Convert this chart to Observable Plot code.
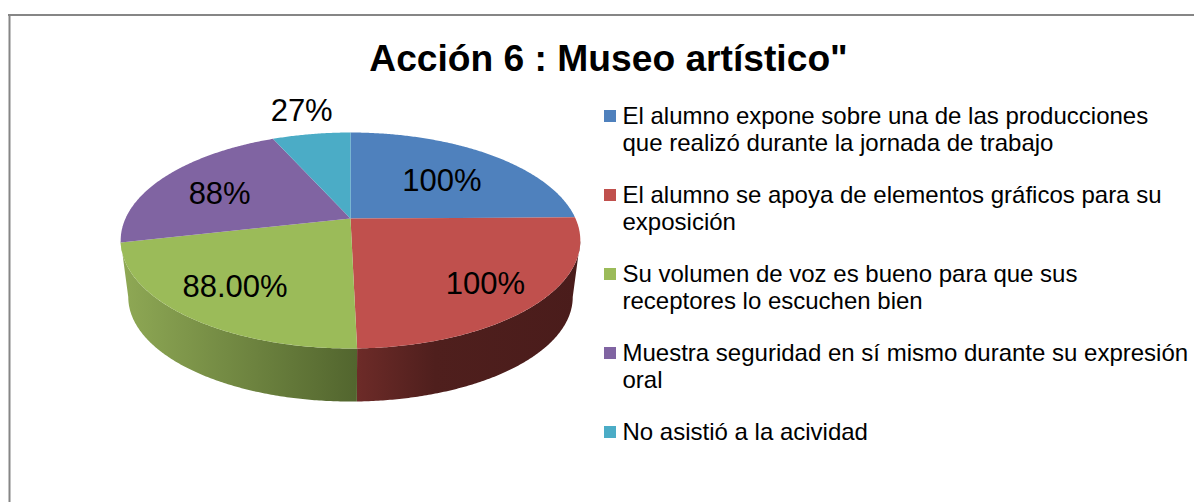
<!DOCTYPE html>
<html><head><meta charset="utf-8">
<script src="https://cdn.jsdelivr.net/npm/d3@7"></script>
<script src="https://cdn.jsdelivr.net/npm/@observablehq/plot@0.6"></script>
<style>html,body{margin:0;padding:0;background:#fff}svg{display:block}</style>
</head><body><div id="chart"></div>
<script>
const title = 'Acción 6 : Museo artístico"';
const values = [100, 100, 88, 88, 27];
const sliceLabels = ["100%", "100%", "88.00%", "88%", "27%"];
const categories = [
  ["El alumno expone sobre una de las producciones", "que realizó durante la jornada de trabajo"],
  ["El alumno se apoya de elementos gráficos para su", "exposición"],
  ["Su volumen de voz es bueno para que sus", "receptores lo escuchen bien"],
  ["Muestra seguridad en sí mismo durante su expresión", "oral"],
  ["No asistió a la acividad"]
];
const colors = ["#4f81bd", "#c0504d", "#9bbb59", "#8064a2", "#4bacc6"];
const labelRadius = [0.585, 0.77, 0.74, 0.658, 1.338];
const labelTurn = [3.8, 2.4, -0.3, -4.7, 0.2];

// Perspective view of the tilted disc
const cx = 350, cy = 218, R = 225, A = 103.5, k = 0.2037;
const ellipseCy = 240, wallCy = 296.6, wallScale = 0.967;
const W = 1194, H = 502;

function upperPoint(theta, r = 1) {
  const s = r * Math.sin(theta), d = -r * Math.cos(theta), D = 1 - k * d;
  return {x: cx + R * s / D, y: cy + A * d / D};
}
function lowerPoint(theta) {
  const p = upperPoint(theta);
  return {x: cx + wallScale * (p.x - cx), y: wallCy + wallScale * (p.y - ellipseCy)};
}
function sweep(a, b) {
  const n = Math.max(2, Math.ceil(Math.abs(b - a) / (Math.PI / 360)));
  return d3.range(n + 1).map(i => a + (b - a) * i / n);
}
const arcs = d3.pie().sort(null)(values);
const tangentD = ((ellipseCy - cy) / A) / (1 + k * (ellipseCy - cy) / A);
const tangent = Math.acos(-tangentD);

const topPolys = arcs.map(a => [upperPoint(0, 0), ...sweep(a.startAngle, a.endAngle).map(t => upperPoint(t))]);
function wall(a, b) {
  const ts = sweep(a, b);
  return [...ts.map(t => upperPoint(t)), ...ts.slice().reverse().map(t => lowerPoint(t))];
}
const redWall = wall(tangent, arcs[1].endAngle);
const greenWall = wall(arcs[2].startAngle, 2 * Math.PI - tangent);

const labelRows = arcs.map((a, i) => ({
  ...upperPoint((a.startAngle + a.endAngle) / 2 + labelTurn[i] * Math.PI / 180, labelRadius[i]),
  text: sliceLabels[i]
}));

// Legend rows
const firstRow = 116, lineStep = 27, entryGap = 25, swatch = 12;
const legendLines = [], legendSwatches = [];
let yy = firstRow;
categories.forEach((lines, i) => {
  legendSwatches.push({y: yy, color: colors[i]});
  lines.forEach(t => { legendLines.push({y: yy, text: t}); yy += lineStep; });
  yy += entryGap;
});

function gradient(id, stops) {
  const g = d3.create("svg:linearGradient").attr("id", id).attr("x1", 0).attr("x2", 1).attr("y1", 0).attr("y2", 0);
  stops.forEach(([o, c]) => g.append("stop").attr("offset", o).attr("stop-color", c));
  return g.node();
}
const defs = () => {
  const d = d3.create("svg:defs");
  d.append(() => gradient("wallRed", [[0, "#6d2b28"], [0.35, "#4f1f1d"], [1, "#4a1c1b"]]));
  d.append(() => gradient("wallGreen", [[0, "#8fa955"], [1, "#52652e"]]));
  return d.node();
};
const font = "Liberation Sans, Arial, sans-serif";

const plot = Plot.plot({
  width: W, height: H,
  margin: 0,
  x: {domain: [0, W], range: [0, W], axis: null},
  y: {domain: [0, H], range: [0, H], axis: null},
  style: {background: "#fff", fontFamily: font},
  marks: [
    defs,
    Plot.ruleX([9], {y1: 14, y2: H, stroke: "#868686", strokeWidth: 2}),
    Plot.ruleY([14.5], {x1: 8, x2: W, stroke: "#868686", strokeWidth: 2}),
    Plot.line(redWall, {x: "x", y: "y", fill: "url(#wallRed)", stroke: "none"}),
    Plot.line(greenWall, {x: "x", y: "y", fill: "url(#wallGreen)", stroke: "none"}),
    ...topPolys.map((p, i) => Plot.line(p, {x: "x", y: "y", fill: colors[i], stroke: "none"})),
    Plot.text([title], {x: () => 608, y: () => 59, text: d => d, fontSize: 37.2, fontWeight: "bold", fill: "#000", lineAnchor: "middle", textAnchor: "middle"}),
    Plot.text(labelRows, {x: "x", y: "y", text: "text", fontSize: 31, fill: "#000", lineAnchor: "middle", textAnchor: "middle"}),
    Plot.rect(legendSwatches, {x1: () => 604, x2: () => 604 + swatch, y1: d => d.y - swatch / 2, y2: d => d.y + swatch / 2, fill: "color"}),
    Plot.text(legendLines, {x: () => 622, y: "y", text: "text", fontSize: 24, fill: "#000", lineAnchor: "middle", textAnchor: "start"})
  ]
});
document.getElementById("chart").append(plot);
</script></body></html>
